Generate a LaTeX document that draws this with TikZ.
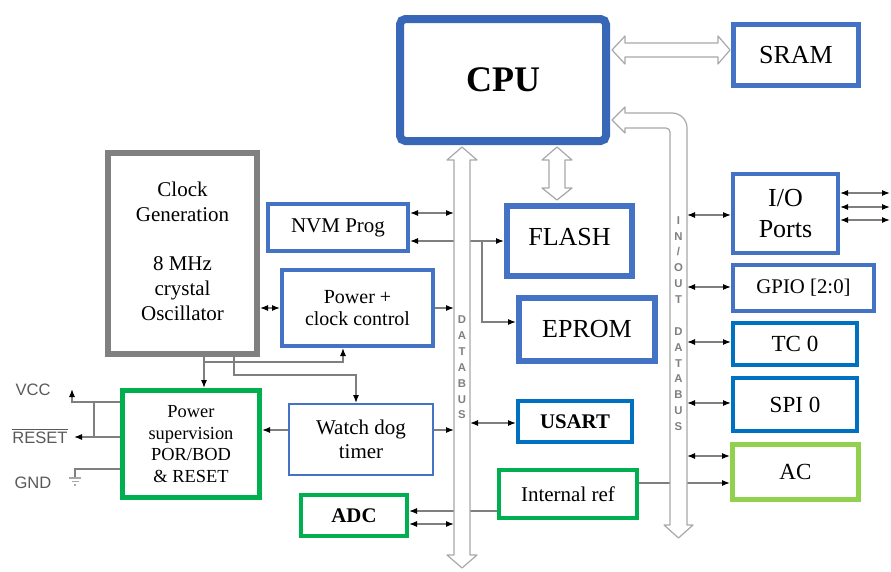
\documentclass[tikz,border=0pt]{standalone}
\usepackage{fontspec}
\setmainfont{Liberation Serif}
\newfontfamily\labelsans{Liberation Sans}
\usetikzlibrary{arrows.meta}

\definecolor{boxblue}{HTML}{4472C4}
\definecolor{darkblue}{HTML}{0070C0}
\definecolor{cpublue}{HTML}{3867B8}
\definecolor{boxgreen}{HTML}{00B050}
\definecolor{lightgreen}{HTML}{92D050}
\definecolor{boxgray}{HTML}{808080}
\definecolor{busgray}{HTML}{A8A8A8}
\definecolor{wiregray}{HTML}{7F7F7F}
\definecolor{pingray}{HTML}{595959}

\tikzset{
 blk/.style={draw, fill=white, inner sep=0pt, align=center, text=black, anchor=center},
 wire/.style={draw=wiregray, line width=0.9pt},
 arr/.style={wire, -{Latex[length=6pt,width=4.5pt,color=black]}},
 dbl/.style={wire, {Latex[length=6pt,width=4.5pt,color=black]}-{Latex[length=6pt,width=4.5pt,color=black]}},
 bus/.style={draw=busgray, fill=white, line width=0.9pt, line join=round},
 busletters/.style={font=\labelsans\bfseries\fontsize{8.5}{11.9}\selectfont, text=gray, align=center, inner sep=0pt},
 pinlabel/.style={font=\labelsans\fontsize{12.4}{14}\selectfont, text=pingray, inner sep=0pt},
}

\begin{document}
\begin{tikzpicture}[x=0.75pt,y=-0.75pt]
\useasboundingbox (0,0) rectangle (891,571);

% ---------- blocks ----------
\node[blk, draw=cpublue, line width=6pt, rounded corners=4pt, minimum width=154.5pt, minimum height=91.5pt, font=\bfseries\fontsize{27}{30}\selectfont] (cpu) at (503,80) {CPU};
\node[blk, draw=boxblue, line width=3.75pt, minimum width=93.75pt, minimum height=45.75pt, font=\fontsize{19.5}{23}\selectfont] (sram) at (796,55) {SRAM};
\node[blk, draw=boxblue, line width=4.5pt, minimum width=93.75pt, minimum height=52.5pt, font=\fontsize{19.5}{23}\selectfont] (flash) at (569.5,241) {\raisebox{6.5pt}{FLASH}};
\node[blk, draw=boxblue, line width=4.5pt, minimum width=102pt, minimum height=47.25pt, font=\fontsize{19.5}{23}\selectfont] (eprom) at (587,329.5) {\raisebox{1.5pt}{EPROM}};
\node[blk, draw=boxblue, line width=3pt, minimum width=105pt, minimum height=35.25pt, font=\fontsize{15.75}{18}\selectfont] (nvm) at (338,227.5) {NVM Prog};
\node[blk, draw=boxblue, line width=3pt, minimum width=113.25pt, minimum height=57pt, font=\fontsize{15}{17}\selectfont] (pcc) at (357.5,308) {Power +\\clock control};
\node[blk, draw=boxgray, line width=4.5pt, minimum width=111.75pt, minimum height=150.75pt, font=\fontsize{15.75}{18.5}\selectfont] (clk) at (182.5,253.5)
  {\raisebox{-6pt}{\begin{tabular}{@{}c@{}}Clock\\Generation\\\mbox{}\\8 MHz\\crystal\\Oscillator\end{tabular}}};
\node[blk, draw=boxgreen, line width=3.75pt, minimum width=102.75pt, minimum height=80.25pt, font=\fontsize{13.8}{16.3}\selectfont] (psup) at (191,444) {Power\\supervision\\POR/BOD\\\& RESET};
\node[blk, draw=boxblue, line width=1.5pt, minimum width=108pt, minimum height=53.25pt, font=\fontsize{15.75}{18}\selectfont] (wd) at (361,439.5) {Watch dog\\timer};
\node[blk, draw=boxgreen, line width=3pt, minimum width=79.5pt, minimum height=30.75pt, font=\bfseries\fontsize{15.6}{18}\selectfont] (adc) at (354,515.5) {ADC};
\node[blk, draw=darkblue, line width=3pt, minimum width=85.5pt, minimum height=30.75pt, font=\bfseries\fontsize{15.6}{18}\selectfont] (usart) at (575,421.5) {USART};
\node[blk, draw=boxgreen, line width=2.6pt, minimum width=103.5pt, minimum height=36pt, font=\fontsize{15.75}{18}\selectfont] (iref) at (568,494) {Internal ref};
\node[blk, draw=boxblue, line width=3pt, minimum width=78.75pt, minimum height=59.25pt, font=\fontsize{19.5}{23}\selectfont] (iop) at (785.5,213.5) {I/O\\Ports};
\node[blk, draw=boxblue, line width=3pt, minimum width=105.75pt, minimum height=34.5pt, font=\fontsize{15.6}{18}\selectfont] (gpio) at (803.5,288) {GPIO [2:0]};
\node[blk, draw=darkblue, line width=3pt, minimum width=93pt, minimum height=31.5pt, font=\fontsize{17.3}{20}\selectfont] (tc) at (795,344) {TC 0};
\node[blk, draw=darkblue, line width=3pt, minimum width=93pt, minimum height=39.75pt, font=\fontsize{17.3}{20}\selectfont] (spi) at (795,404.5) {SPI 0};
\node[blk, draw=lightgreen, line width=3.75pt, minimum width=94.5pt, minimum height=41.25pt, font=\fontsize{17.3}{20}\selectfont] (ac) at (795.5,472) {AC};

% ---------- bus edge coordinates ----------
\coordinate (dbW) at (454,300);
\coordinate (dbE) at (470,300);
\coordinate (ioW) at (670,300);
\coordinate (ioE) at (687,300);

% ---------- wires ----------
\draw[dbl] (nvm.east |- 0,213) -- (dbW |- 0,213);
\coordinate (fk) at (482,241);
\draw[arr] (fk) -- (nvm.east |- fk);
\draw[arr] (fk) -- (flash.west |- fk);
\draw[arr] (fk) |- (eprom.west |- 0,322);
\draw[dbl] (clk.east |- 0,308) -- (pcc.west |- 0,308);
\draw[arr] (pcc.east |- 0,308) -- (dbW |- 0,308);
\coordinate (c1) at (204,362);
\draw[wire] (clk.south -| c1) -- (c1);
\draw[arr] (c1) -- (psup.north -| c1);
\draw[arr] (c1) -| (pcc.south -| 343,0);
\coordinate (c2) at (234,375);
\draw[arr] (clk.south -| c2) -- (c2) -| (wd.north -| 356,0);
\draw[arr] (wd.east |- 0,430) -- (dbW |- 0,430);
\draw[arr] (wd.west |- 0,430) -- (psup.east |- 0,430);
\draw[dbl] (dbE |- 0,423) -- (usart.west |- 0,423);
\draw[arr] (iref.west |- 0,511) -- (adc.east |- 0,511);
\draw[dbl] (adc.east |- 0,524) -- (dbW |- 0,524);
\draw[arr] (iref.east |- 0,483) -- (ac.west |- 0,483);
\foreach \n/\y in {iop/215, gpio/287, tc/342, spi/403, ac/456}
  \draw[dbl] (ioE |- 0,\y) -- (\n.west |- 0,\y);
\coordinate (ext) at (890,200);
\foreach \y in {193,207,220}
  \draw[dbl] (iop.east |- 0,\y) -- (ext |- 0,\y);

% ---------- power pins ----------
\coordinate (vccpin) at (72,389);
\coordinate (rstpin) at (74,437);
\coordinate (gndpin) at (75,478);
\coordinate (j1) at (94,402);
\coordinate (j2) at (94,437);
\draw[arr] (psup.west |- j1) -| (vccpin);
\draw[wire] (j1) -- (j2);
\draw[arr] (psup.west |- rstpin) -- (rstpin);
\draw[wire] (psup.west |- 0,469) -| (gndpin);
\draw[draw=busgray, line width=0.9pt] (69,478) -- (81,478) (71.5,481.5) -- (78.5,481.5) (74,485) -- (76,485);
\node[pinlabel] (vcc) at (33,390) {VCC};
\node[pinlabel] (rst) at (40,436) {$\overline{\mbox{RESET}}$};
\node[pinlabel] (gnd) at (33,483) {GND};

% ---------- buses ----------
\draw[bus] (462,147) -- (447,160) -- (454,160) -- (454,555) -- (447,555) -- (462,568) -- (477,555) -- (470,555) -- (470,160) -- (477,160) -- cycle;
\draw[bus] (557,147) -- (542,160) -- (549,160) -- (549,188) -- (542,188) -- (557,200) -- (572,188) -- (565,188) -- (565,160) -- (572,160) -- cycle;
\draw[bus] (612,50) -- (625,36) -- (625,43) -- (718,43) -- (718,36) -- (730,50) -- (718,64) -- (718,57) -- (625,57) -- (625,64) -- cycle;
\draw[bus] (612,120) -- (625,107) -- (625,113) -- (672,113) arc[start angle=-90,end angle=0,radius=15] -- (687,525) -- (693,525) -- (678.5,538) -- (664,525) -- (670,525) -- (670,132) arc[start angle=0,end angle=-90,radius=4] -- (625,128) -- (625,133) -- cycle;

\node[busletters] (dblab) at (462,367.5) {D\\A\\T\\A\\B\\U\\S};
\node[busletters] (iolab) at (678.5,323.5) {I\\N\\/\\O\\U\\T\\\mbox{}\\D\\A\\T\\A\\B\\U\\S};
\end{tikzpicture}
\end{document}
